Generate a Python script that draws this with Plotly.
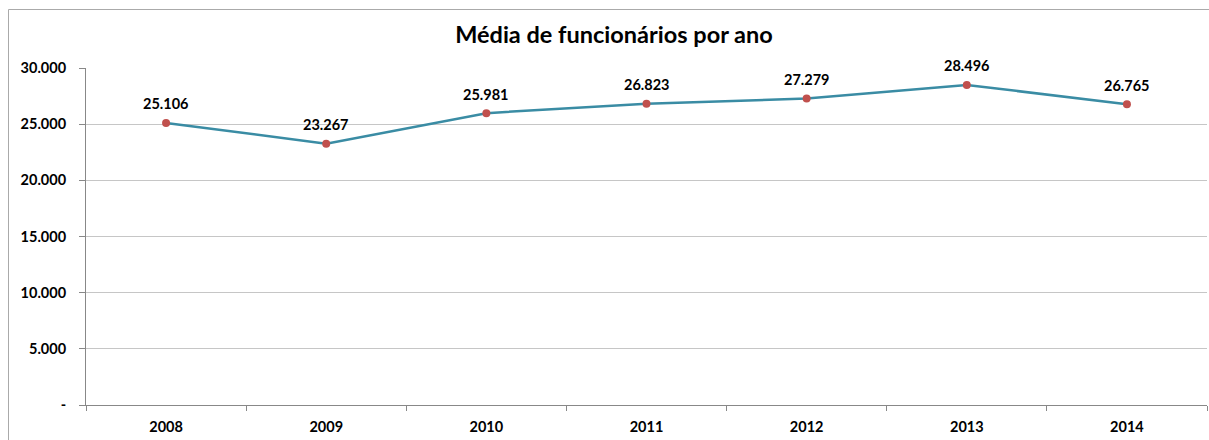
import plotly.graph_objects as go

years = ["2008", "2009", "2010", "2011", "2012", "2013", "2014"]
values = [25106, 23267, 25981, 26823, 27279, 28496, 26765]
labels = ["25.106", "23.267", "25.981", "26.823", "27.279", "28.496", "26.765"]
ytick_vals = [0, 5000, 10000, 15000, 20000, 25000, 30000]
ytick_text = ["-", "5.000", "10.000", "15.000", "20.000", "25.000", "30.000"]
title = "Média de funcionários por ano"

FONT = "Lato, Carlito, Calibri, sans-serif"

fig = go.Figure()
fig.add_trace(go.Scatter(
    x=years, y=values, mode="lines+markers",
    line=dict(color="#3A8CA4", width=2.5),
    marker=dict(color="#C0504D", size=8),
    cliponaxis=False, hoverinfo="skip",
))

W, H = 1209, 440
L, R, T, B = 86, 2, 68, 35
pw, ph = W - L - R, H - T - B

def px(x):
    return (x - L) / pw

def py(y):
    return (H - B - y) / ph

annotations = [
    dict(x=i, y=v, xref="x", yref="y", text=f"<b>{lab}</b>", showarrow=False,
         yshift=19, yanchor="middle", xanchor="center",
         font=dict(family=FONT, size=14.5, color="black"))
    for i, (v, lab) in enumerate(zip(values, labels))
]

fig.update_layout(
    width=W, height=H,
    margin=dict(l=L, r=R, t=T, b=B),
    paper_bgcolor="white", plot_bgcolor="white",
    showlegend=False,
    title=dict(text=f"<b>{title}</b>", x=614 / W, xanchor="center",
               y=1 - 35 / H, yanchor="middle",
               font=dict(family=FONT, size=23.5, color="black")),
    xaxis=dict(type="category", range=[-0.5, 6.5], showgrid=False,
               showline=True, linecolor="#888888", linewidth=1,
               ticks="outside", tickson="boundaries", ticklen=5, tickcolor="#888888",
               ticklabelstandoff=9,
               tickfont=dict(family=FONT, size=14.5, color="black", weight="bold"),
               fixedrange=True),
    yaxis=dict(range=[0, 30000], tickvals=ytick_vals, ticktext=ytick_text,
               showgrid=True, gridcolor="#C6C6C6", gridwidth=1,
               showline=True, linecolor="#888888", linewidth=1,
               ticks="outside", ticklen=6, tickcolor="#888888",
               ticklabelstandoff=10,
               tickfont=dict(family=FONT, size=14.5, color="black", weight="bold"),
               zeroline=False, fixedrange=True),
    annotations=annotations,
    shapes=[
        dict(type="line", xref="paper", yref="paper",
             x0=px(8.5), x1=px(1300), y0=py(9.5), y1=py(9.5),
             line=dict(color="#AAAAAA", width=1)),
        dict(type="line", xref="paper", yref="paper",
             x0=px(8.5), x1=px(8.5), y0=py(9.5), y1=py(500),
             line=dict(color="#AAAAAA", width=1)),
    ],
)

fig.write_html(
    "out.html",
    config={"displayModeBar": False},
    post_script="document.body.style.margin='0';document.body.style.overflow='hidden';",
)
